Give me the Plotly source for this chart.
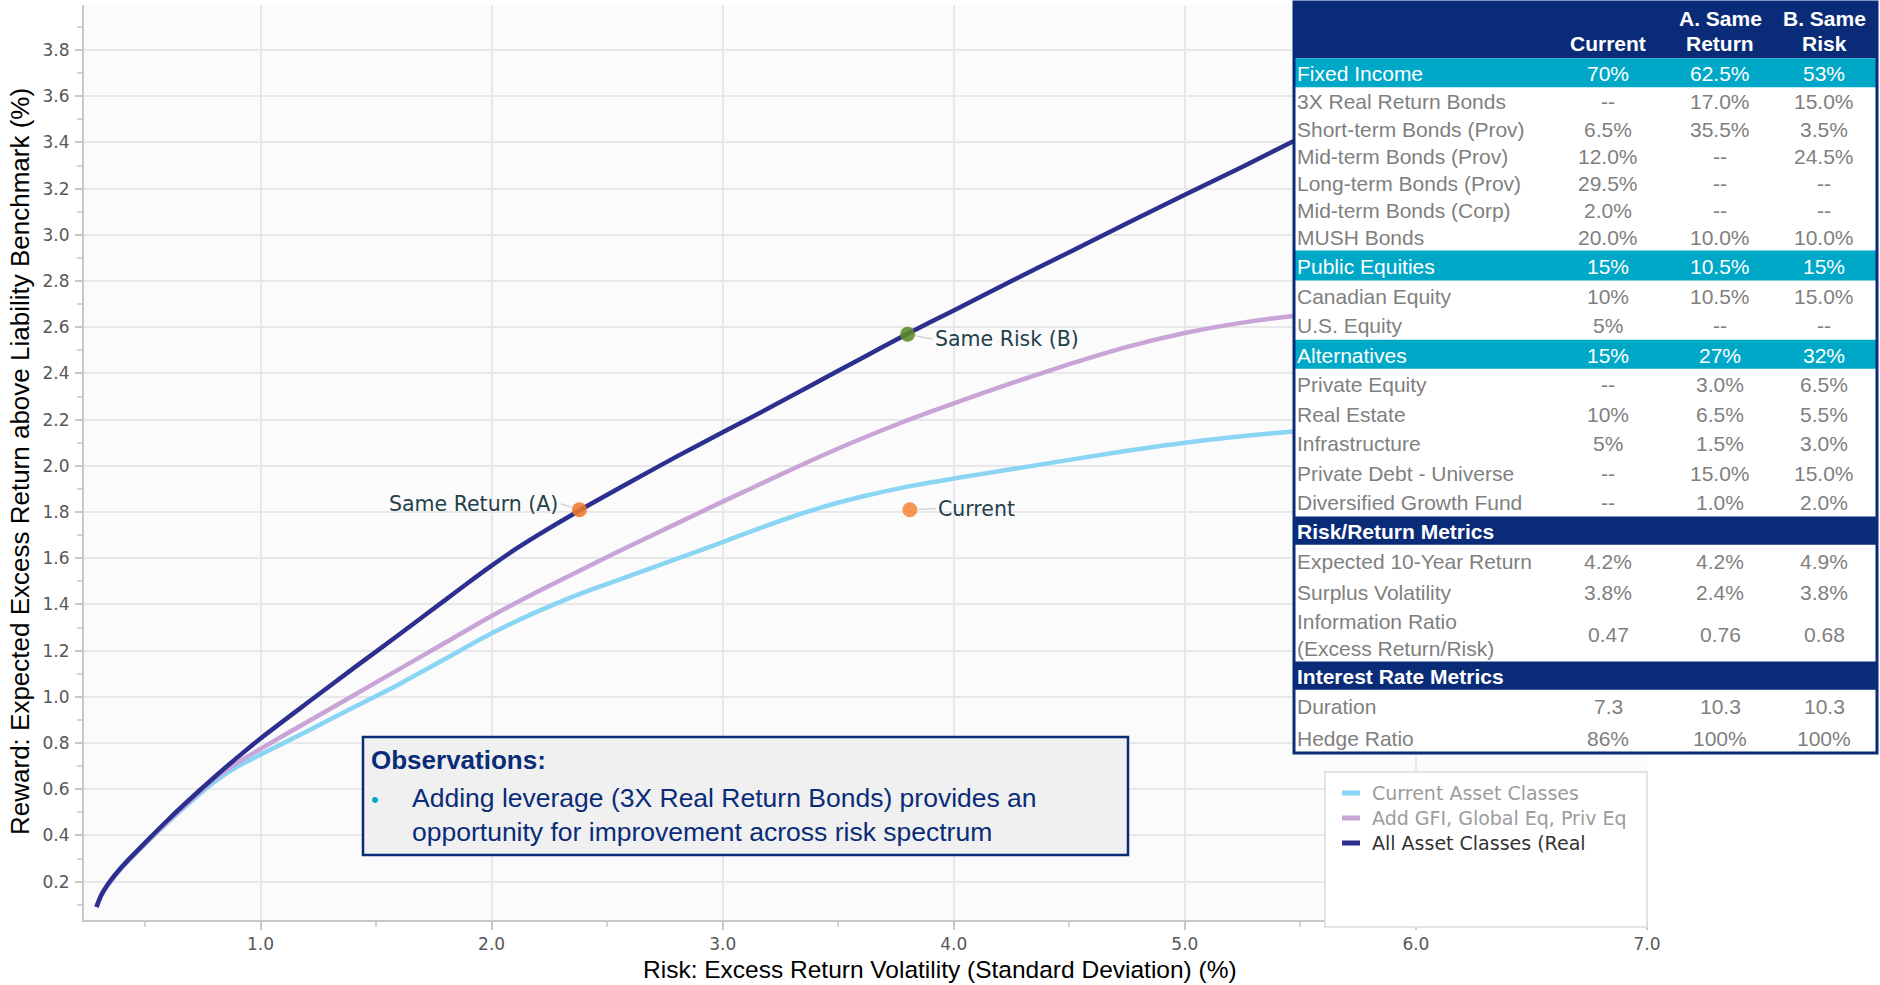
import plotly.graph_objects as go

W, H = 1880, 985

# Efficient frontiers: surplus volatility (%) vs expected excess return (%)
current_risk = [0.29, 0.31, 0.34, 0.40, 0.50, 0.60, 0.70, 0.80, 0.90, 1.00, 1.20, 1.40, 1.60, 1.80,
                2.00, 2.20, 2.39, 2.60, 2.80, 3.00, 3.20, 3.40, 3.60, 3.80, 4.00, 4.34, 4.75, 5.00,
                5.47, 5.80]
current_ret = [0.09, 0.14, 0.186, 0.26, 0.362, 0.458, 0.548, 0.632, 0.698, 0.75, 0.85, 0.953, 1.055, 1.165,
               1.275, 1.37, 1.449, 1.525, 1.597, 1.67, 1.745, 1.812, 1.866, 1.91, 1.945, 2.0, 2.065, 2.1,
               2.149, 2.17]

addgfi_risk = [0.29, 0.31, 0.34, 0.40, 0.50, 0.60, 0.70, 0.80, 0.90, 1.00, 1.20, 1.40, 1.60, 1.80,
               2.00, 2.20, 2.40, 2.60, 2.80, 3.00, 3.25, 3.50, 3.75, 4.00, 4.25, 4.50, 4.75, 5.00,
               5.25, 5.50, 5.80]
addgfi_ret = [0.09, 0.14, 0.187, 0.262, 0.364, 0.462, 0.555, 0.645, 0.715, 0.775, 0.89, 1.005, 1.12, 1.235,
              1.35, 1.456, 1.556, 1.654, 1.75, 1.845, 1.962, 2.075, 2.178, 2.27, 2.358, 2.44, 2.515, 2.575,
              2.62, 2.652, 2.68]

all_risk = [0.29, 0.31, 0.34, 0.40, 0.50, 0.60, 0.70, 0.80, 0.90, 1.00, 1.20, 1.40, 1.60, 1.80,
            1.90, 2.00, 2.10, 2.20, 2.38, 2.60, 2.80, 3.00, 3.20, 3.40, 3.60, 3.80, 4.00, 4.25,
            4.50, 4.75, 5.00, 5.25, 5.50, 5.80]
all_ret = [0.09, 0.14, 0.19, 0.265, 0.368, 0.468, 0.562, 0.652, 0.738, 0.82, 0.972, 1.122, 1.27, 1.42,
           1.495, 1.568, 1.637, 1.70, 1.807, 1.93, 2.04, 2.145, 2.25, 2.358, 2.465, 2.572, 2.673, 2.80,
           2.925, 3.05, 3.174, 3.295, 3.42, 3.565]

series_names = ["Current Asset Classes", "Add GFI, Global Eq, Priv Eq", "All Asset Classes (Real"]

# Highlighted portfolios
portfolio_names = ["Same Return (A)", "Current", "Same Risk (B)"]
portfolio_risk = [2.38, 3.81, 3.80]
portfolio_ret = [1.81, 1.81, 2.57]

# Allocation table
table_columns = ["Current", "A. Same<br>Return", "B. Same<br>Risk"]
table_labels = [
    "Fixed Income", "3X Real Return Bonds", "Short-term Bonds (Prov)", "Mid-term Bonds (Prov)",
    "Long-term Bonds (Prov)", "Mid-term Bonds (Corp)", "MUSH Bonds",
    "Public Equities", "Canadian Equity", "U.S. Equity",
    "Alternatives", "Private Equity", "Real Estate", "Infrastructure", "Private Debt - Universe",
    "Diversified Growth Fund",
    "Risk/Return Metrics", "Expected 10-Year Return", "Surplus Volatility",
    "Information Ratio<br>(Excess Return/Risk)",
    "Interest Rate Metrics", "Duration", "Hedge Ratio",
]
table_groups = ["section"] + ["item"] * 6 + ["section"] + ["item"] * 2 + ["section"] + ["item"] * 5 \
    + ["header"] + ["item"] * 3 + ["header"] + ["item"] * 2
col_current = ["70%", "--", "6.5%", "12.0%", "29.5%", "2.0%", "20.0%",
               "15%", "10%", "5%",
               "15%", "--", "10%", "5%", "--", "--",
               "", "4.2%", "3.8%", "0.47",
               "", "7.3", "86%"]
col_same_return = ["62.5%", "17.0%", "35.5%", "--", "--", "--", "10.0%",
                   "10.5%", "10.5%", "--",
                   "27%", "3.0%", "6.5%", "1.5%", "15.0%", "1.0%",
                   "", "4.2%", "2.4%", "0.76",
                   "", "10.3", "100%"]
col_same_risk = ["53%", "15.0%", "3.5%", "24.5%", "--", "--", "10.0%",
                 "15%", "15.0%", "--",
                 "32%", "6.5%", "5.5%", "3.0%", "15.0%", "2.0%",
                 "", "4.9%", "3.8%", "0.68",
                 "", "10.3", "100%"]

observation_title = "Observations:"
observation_text = "Adding leverage (3X Real Return Bonds) provides an<br>opportunity for improvement across risk spectrum"

# ---- styling ----
NAVY = "#0a2c78"
CYAN = "#00a8c8"
GRAY_TXT = "#7f7f7f"
COL_CURRENT = "#8ad4f4"
COL_ADDGFI = "#c8a5d6"
COL_ALL = "#2c2f8e"
ARIAL = "Liberation Sans, Arial, sans-serif"
VERDANA = "DejaVu Sans, Verdana, sans-serif"


def px(x):
    return x / W


def py(y):
    return 1 - y / H


fig = go.Figure()

for rx, ry, name, color in [(current_risk, current_ret, series_names[0], COL_CURRENT),
                            (addgfi_risk, addgfi_ret, series_names[1], COL_ADDGFI),
                            (all_risk, all_ret, series_names[2], COL_ALL)]:
    fig.add_trace(go.Scatter(
        x=rx, y=ry, mode="lines", name=name, showlegend=False, hoverinfo="skip",
        line=dict(color=color, width=4.5, shape="spline", smoothing=0.7),
    ))

fig.add_trace(go.Scatter(
    x=portfolio_risk, y=portfolio_ret, mode="markers", showlegend=False,
    marker=dict(size=15, color=["#ec7a2c", "#f5883a", "#5b8a2b"], opacity=0.88, line=dict(width=0)),
    text=portfolio_names, hoverinfo="text",
))

annotations = []
shapes = []

# point labels with short leader lines
label_offsets = {"Same Return (A)": (-19, -6, "right"),
                 "Current": (26, -1, "left"),
                 "Same Risk (B)": (25, 5, "left")}
for name, rx, ry in zip(portfolio_names, portfolio_risk, portfolio_ret):
    ax, ay, anchor = label_offsets[name]
    annotations.append(dict(
        x=rx, y=ry, xref="x", yref="y", text=name, showarrow=True,
        ax=ax, ay=ay, xanchor=anchor, yanchor="middle",
        arrowhead=0, arrowwidth=1, arrowcolor="#c4c4c4", standoff=8,
        font=dict(family=VERDANA, size=20.5, color="#24414a"),
    ))

# axis titles
annotations.append(dict(
    x=px(940), y=py(969), xref="paper", yref="paper", showarrow=False,
    text="Risk: Excess Return Volatility (Standard Deviation) (%)",
    xanchor="center", yanchor="middle", font=dict(family=ARIAL, size=24.5, color="#000000"),
))
annotations.append(dict(
    x=px(20), y=py(462), xref="paper", yref="paper", showarrow=False, textangle=-90,
    text="Reward: Expected Excess Return above Liability Benchmark (%)",
    xanchor="center", yanchor="middle", font=dict(family=ARIAL, size=26, color="#000000"),
))

# observations box
shapes.append(dict(type="rect", xref="paper", yref="paper", layer="above",
                   x0=px(363), x1=px(1128), y0=py(855), y1=py(737),
                   fillcolor="#f0f0f0", line=dict(color=NAVY, width=2.5)))
annotations.append(dict(
    x=px(369), y=py(760), xref="paper", yref="paper", showarrow=False,
    text="<b>" + observation_title + "</b>", xanchor="left", yanchor="middle",
    font=dict(family=ARIAL, size=26, color=NAVY),
))
annotations.append(dict(
    x=px(375), y=py(799), xref="paper", yref="paper", showarrow=False,
    text="•", xanchor="center", yanchor="middle",
    font=dict(family=ARIAL, size=22, color=CYAN),
))
annotations.append(dict(
    x=px(410), y=py(815), xref="paper", yref="paper", showarrow=False,
    text=observation_text, xanchor="left", yanchor="middle", align="left",
    font=dict(family=ARIAL, size=26.5, color=NAVY),
))

# legend box
shapes.append(dict(type="rect", xref="paper", yref="paper", layer="above",
                   x0=px(1325), x1=px(1647), y0=py(927), y1=py(772),
                   fillcolor="#ffffff", line=dict(color="#dadada", width=1.5)))
legend_rows = [793, 818, 843]
legend_text_colors = ["#9c9c9c", "#9c9c9c", "#333333"]
for name, color, tcol, yy in zip(series_names, [COL_CURRENT, COL_ADDGFI, COL_ALL], legend_text_colors, legend_rows):
    shapes.append(dict(type="line", xref="paper", yref="paper", layer="above",
                       x0=px(1342), x1=px(1360), y0=py(yy), y1=py(yy),
                       line=dict(color=color, width=5)))
    annotations.append(dict(
        x=px(1370), y=py(yy), xref="paper", yref="paper", showarrow=False,
        text=name, xanchor="left", yanchor="middle", align="left", width=262,
        font=dict(family=VERDANA, size=19, color=tcol),
    ))

# allocation table
T_LEFT, T_RIGHT, T_TOP, T_HEAD = 1294, 1877, 2, 58.3
row_heights = [29, 27.2, 27.2, 27.2, 27.2, 27.2, 27.2,
               30, 29.65, 29.65,
               29, 29.54, 29.54, 29.54, 29.54, 29.54,
               28.3, 31.5, 30, 55.2,
               28.3, 31.5, 31.8]
col_x = [1608, 1720, 1824]
T_BOTTOM = T_HEAD + sum(row_heights)

shapes.append(dict(type="rect", xref="paper", yref="paper", layer="above",
                   x0=px(T_LEFT), x1=px(T_RIGHT), y0=py(T_BOTTOM), y1=py(T_TOP),
                   fillcolor="#ffffff", line=dict(width=0)))
shapes.append(dict(type="rect", xref="paper", yref="paper", layer="above",
                   x0=px(T_LEFT), x1=px(T_RIGHT), y0=py(T_HEAD), y1=py(T_TOP),
                   fillcolor=NAVY, line=dict(width=0)))

# column headers, bottom-aligned lines
for cx, head in zip(col_x, table_columns):
    lines = head.split("<br>")
    for k, line in enumerate(reversed(lines)):
        annotations.append(dict(
            x=px(cx), y=py(43 - 24 * k), xref="paper", yref="paper", showarrow=False,
            text="<b>" + line + "</b>", xanchor="center", yanchor="middle",
            font=dict(family=ARIAL, size=21, color="#ffffff"),
        ))

top = T_HEAD
for label, grp, h, v1, v2, v3 in zip(table_labels, table_groups, row_heights,
                                     col_current, col_same_return, col_same_risk):
    bottom = top + h
    mid = (top + bottom) / 2 + 1
    if grp == "section":
        shapes.append(dict(type="rect", xref="paper", yref="paper", layer="above",
                           x0=px(T_LEFT), x1=px(T_RIGHT), y0=py(bottom), y1=py(top),
                           fillcolor=CYAN, line=dict(width=0)))
        tcol, ltxt = "#ffffff", label
    elif grp == "header":
        shapes.append(dict(type="rect", xref="paper", yref="paper", layer="above",
                           x0=px(T_LEFT), x1=px(T_RIGHT), y0=py(bottom), y1=py(top),
                           fillcolor=NAVY, line=dict(width=0)))
        tcol, ltxt = "#ffffff", "<b>" + label + "</b>"
    else:
        tcol, ltxt = GRAY_TXT, label
    annotations.append(dict(
        x=px(T_LEFT + 1), y=py(mid), xref="paper", yref="paper", showarrow=False,
        text=ltxt, xanchor="left", yanchor="middle", align="left",
        font=dict(family=ARIAL, size=21, color=tcol),
    ))
    for cx, val in zip(col_x, [v1, v2, v3]):
        if val:
            annotations.append(dict(
                x=px(cx), y=py(mid), xref="paper", yref="paper", showarrow=False,
                text=val, xanchor="center", yanchor="middle",
                font=dict(family=ARIAL, size=21, color=tcol),
            ))
    top = bottom

shapes.append(dict(type="rect", xref="paper", yref="paper", layer="above",
                   x0=px(T_LEFT), x1=px(T_RIGHT), y0=py(T_BOTTOM), y1=py(T_TOP),
                   fillcolor="rgba(0,0,0,0)", line=dict(color=NAVY, width=3)))

tick_font = dict(family=VERDANA, size=17, color="#575757")

fig.update_layout(
    template="none",
    width=W, height=H, autosize=False,
    margin=dict(l=0, r=0, t=0, b=0),
    paper_bgcolor="#ffffff",
    plot_bgcolor="#fbfbfb",
    showlegend=False,
    xaxis=dict(
        domain=[px(84), px(1647)], range=[0.236, 7.0],
        tick0=0, dtick=1, tickformat=".1f",
        showgrid=True, gridcolor="#e8e8e8", gridwidth=1.5,
        showline=True, linecolor="#c8c8c8", linewidth=2,
        ticks="outside", ticklen=8, tickwidth=1.5, tickcolor="#c8c8c8",
        ticklabelstandoff=0,
        minor=dict(dtick=0.5, ticks="outside", ticklen=5, tickcolor="#d4d4d4", showgrid=False),
        zeroline=False, tickfont=tick_font, automargin=False,
    ),
    yaxis=dict(
        domain=[py(920), py(5)], range=[0.034, 3.995],
        tick0=0, dtick=0.2, tickformat=".1f",
        showgrid=True, gridcolor="#e8e8e8", gridwidth=1.5,
        showline=True, linecolor="#c8c8c8", linewidth=2,
        ticks="outside", ticklen=7, tickwidth=1.5, tickcolor="#c8c8c8",
        ticklabelstandoff=2,
        minor=dict(dtick=0.1, ticks="outside", ticklen=5, tickcolor="#d4d4d4", showgrid=False),
        zeroline=False, tickfont=tick_font, automargin=False,
    ),
    shapes=shapes,
    annotations=annotations,
)

fig.write_html("out.html")
